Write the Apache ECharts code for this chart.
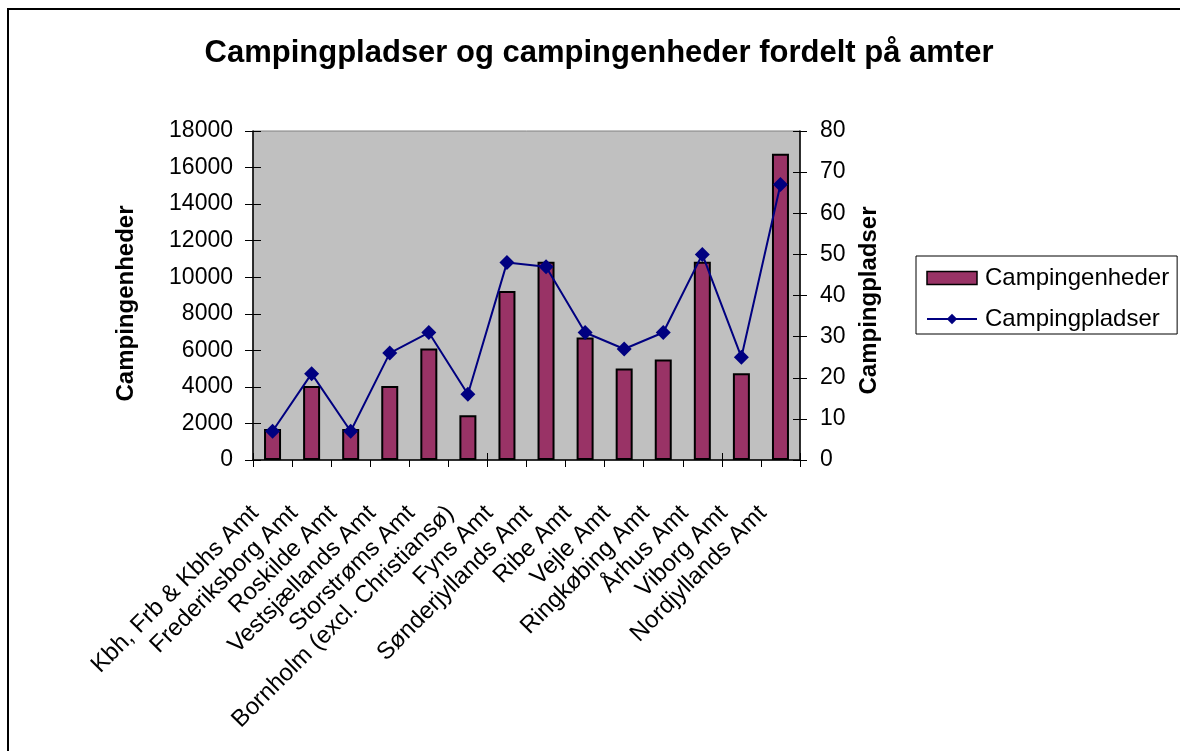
<!DOCTYPE html>
<html>
<head>
<meta charset="utf-8">
<title>Campingpladser og campingenheder fordelt på amter</title>
<script src="https://cdn.jsdelivr.net/npm/echarts@6/dist/echarts.min.js"></script>
<style>
    html, body { margin: 0; padding: 0; background: #fff; }
    #chart { width: 1180px; height: 751px; }
</style>
</head>
<body>
<div id="chart"></div>
<script>
// amter (x-akse)
var amter = ['Kbh, Frb & Kbhs Amt', 'Frederiksborg Amt', 'Roskilde Amt', 'Vestsjællands Amt',
    'Storstrøms Amt', 'Bornholm (excl. Christiansø)', 'Fyns Amt', 'Sønderjyllands Amt',
    'Ribe Amt', 'Vejle Amt', 'Ringkøbing Amt', 'Århus Amt', 'Viborg Amt', 'Nordjyllands Amt'];
// campingenheder (venstre akse, søjler)
var campingenheder = [1700, 4050, 1700, 4050, 6100, 2450, 9250, 10850, 6700, 5000, 5500, 10850, 4750, 16750];
// campingpladser (højre akse, linje)
var campingpladser = [7, 21, 7, 26, 31, 16, 48, 47, 31, 27, 31, 50, 25, 67];

var FONT = 'Arial, "Liberation Sans", sans-serif';

function plainNumber(v) { //ingen tusindtalsseparator
    return String(v);
}

function generateChart() {
    var myChart = echarts.init(document.getElementById("chart"));

    myChart.setOption({
        animation: false,
        backgroundColor: '#fff',
        textStyle: { fontFamily: FONT, color: '#000' },
        title: {
            text: 'Campingpladser og campingenheder fordelt på amter',
            left: 594,
            textAlign: 'center',
            top: 33,
            textStyle: { fontFamily: FONT, fontSize: 31, fontWeight: 'bold', color: '#000' }
        },
        graphic: [{ //ydre ramme
            type: 'rect',
            z: -1,
            shape: { x: 8, y: 9, width: 1300, height: 900 },
            style: { fill: 'none', stroke: '#000', lineWidth: 2 }
        }],
        legend: {
            orient: 'vertical',
            left: 916,
            top: 256,
            padding: [9, 8, 2, 10],
            itemGap: 15,
            itemWidth: 50,
            itemHeight: 13,
            backgroundColor: '#fff',
            borderColor: '#000',
            borderWidth: 1,
            textStyle: { fontFamily: FONT, fontSize: 24, color: '#000', lineHeight: 26, padding: [0, 0, 0, 3] },
            data: [
                { name: 'Campingenheder', icon: 'rect', itemStyle: { color: '#993366', borderColor: '#000', borderWidth: 1.5 } },
                { name: 'Campingpladser' }
            ]
        },
        grid: {
            left: 253,
            top: 131,
            width: 547,
            height: 329,
            show: true,
            backgroundColor: '#C0C0C0',
            borderColor: '#808080',
            borderWidth: 1
        },
        xAxis: [{
            type: 'category',
            data: amter,
            axisLine: { lineStyle: { color: '#000', width: 1.5 } },
            axisTick: { show: true, length: 7, lineStyle: { color: '#000' } },
            axisLabel: {
                rotate: 45,
                interval: 0,
                margin: 32,
                padding: [0, 25, 0, 0], //skubber teksten ned mod venstre
                fontFamily: FONT,
                fontSize: 24,
                color: '#000'
            }
        }, { //ticks der krydser aksen (indvendig del)
            type: 'category',
            data: amter,
            position: 'bottom',
            axisLine: { show: false },
            axisTick: { show: true, inside: true, length: 7, lineStyle: { color: '#000' } },
            axisLabel: { show: false }
        }],
        yAxis: [{
            type: 'value',
            min: 0,
            max: 18000,
            interval: 2000,
            position: 'left',
            name: 'Campingenheder',
            nameLocation: 'middle',
            nameGap: 115,
            nameTextStyle: { fontFamily: FONT, fontSize: 24, fontWeight: 'bold', color: '#000', padding: [0, 16, 0, 0] },
            axisLine: { show: true, lineStyle: { color: '#000', width: 1.5 } },
            axisTick: { show: true, length: 8, lineStyle: { color: '#000' } },
            axisLabel: { margin: 20, fontFamily: FONT, fontSize: 23, color: '#000', formatter: plainNumber },
            splitLine: { show: false }
        }, {
            type: 'value',
            min: 0,
            max: 80,
            interval: 10,
            position: 'right',
            name: 'Campingpladser',
            nameLocation: 'middle',
            nameGap: 57,
            nameTextStyle: { fontFamily: FONT, fontSize: 24, fontWeight: 'bold', color: '#000', padding: [0, 10, 0, 0] },
            axisLine: { show: true, lineStyle: { color: '#000', width: 1.5 } },
            axisTick: { show: true, length: 7, lineStyle: { color: '#000' } },
            axisLabel: { margin: 20, fontFamily: FONT, fontSize: 23, color: '#000', formatter: plainNumber },
            splitLine: { show: false }
        }, { //indvendige ticks venstre
            type: 'value', min: 0, max: 18000, interval: 2000, position: 'left',
            axisLine: { show: false },
            axisTick: { show: true, inside: true, length: 8, lineStyle: { color: '#000' } },
            axisLabel: { show: false },
            splitLine: { show: false }
        }, { //indvendige ticks højre
            type: 'value', min: 0, max: 80, interval: 10, position: 'right',
            axisLine: { show: false },
            axisTick: { show: true, inside: true, length: 7, lineStyle: { color: '#000' } },
            axisLabel: { show: false },
            splitLine: { show: false }
        }],
        series: [{
            name: 'Campingenheder',
            type: 'bar',
            xAxisIndex: 0,
            yAxisIndex: 0,
            barWidth: 17,
            data: campingenheder,
            itemStyle: { color: '#993366', borderColor: '#000', borderWidth: 2 }
        }, {
            name: 'Campingpladser',
            type: 'line',
            xAxisIndex: 0,
            yAxisIndex: 1,
            data: campingpladser,
            symbol: 'diamond',
            symbolSize: 15,
            z: 3,
            lineStyle: { color: '#000080', width: 2 },
            itemStyle: { color: '#000080' }
        }]
    });
}

generateChart();
</script>
</body>
</html>
